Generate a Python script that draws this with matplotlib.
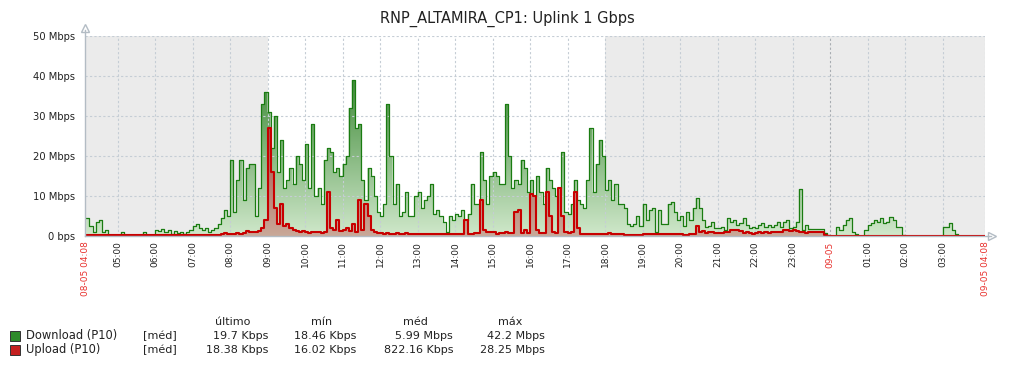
import numpy as np
import matplotlib
matplotlib.use('Agg')
import matplotlib.pyplot as plt
from matplotlib.colors import LinearSegmentedColormap

# Dados (Mbps), amostras a cada 5 min, começando 04:10 de 08-05
download = [
    [4.5, 2.5, 1.0, 3.5, 4.0, 1.0, 1.5, 0.3, 0.3, 0.2],                 # 04h
    [0.2, 1.0, 0.2, 0.3, 0.2, 0.2, 0.2, 0.2, 1.0, 0.2, 0.2, 0.1],       # 05h
    [1.5, 1.2, 1.8, 1.0, 1.5, 0.5, 1.2, 0.8, 1.0, 0.6, 1.0, 1.5],       # 06h
    [2.5, 3.0, 2.0, 1.5, 2.0, 1.0, 1.5, 2.0, 3.0, 4.5, 6.5, 5.0],       # 07h
    [19, 6, 14, 19, 9, 17, 18, 18, 5, 12, 33, 36],                      # 08h
    [31, 22, 30, 16, 24, 12, 14, 17, 13, 20, 18, 14],                   # 09h
    [23, 12, 28, 10, 12, 8, 19, 22, 21, 16, 17, 15],                    # 10h
    [18, 20, 32, 39, 27, 28, 14, 9, 17, 15, 10, 6],                     # 11h
    [5, 8, 33, 20, 8, 13, 5, 6, 11, 5, 5, 10],                          # 12h
    [11, 7, 9, 10, 13, 5.5, 6.5, 5, 3.5, 1, 5, 4],                      # 13h
    [5.5, 5, 6.5, 4, 5.5, 13, 8, 8, 21, 14, 8, 15],                     # 14h
    [16, 15, 13, 13, 33, 20, 12, 14, 13, 19, 17, 11],                   # 15h
    [14, 10, 15, 11, 8, 17, 14, 12, 10, 12, 21, 6],                     # 16h
    [5.5, 8, 14, 9, 8, 7, 14, 27, 11, 18, 24, 20],                      # 17h
    [11.5, 14, 9, 13, 8, 8, 7, 3, 2.5, 3, 5, 2.5],                      # 18h
    [8, 4, 6.5, 7, 1, 6.5, 3, 3, 8, 8.5, 6, 4],                         # 19h
    [5, 2.5, 6, 4, 7, 9.5, 7, 4, 2.3, 2.5, 3.5, 2],                     # 20h
    [2, 2.3, 1.5, 4.4, 3.6, 4, 2.7, 3.2, 4.4, 2.7, 2, 2.3],             # 21h
    [2, 2.7, 3.2, 2.3, 2.7, 2.3, 2.7, 3.6, 2.3, 3.6, 4, 2],             # 22h
    [2.3, 3.6, 11.7, 1.5, 2.7, 1.8, 1.7, 1.7, 1.7, 1.7, 0.8, 0.3],      # 23h
    [0.02, 0.02, 2.3, 1.5, 2.7, 4, 4.5, 1, 0.5, 0.02, 0.02, 1.5],       # 00h
    [2.7, 3.2, 4, 3.6, 4.4, 3.2, 3.6, 4.8, 4, 2.3, 2.3, 0.2],           # 01h
    [0.02, 0.02, 0.02, 0.02, 0.02, 0.02, 0.02, 0.02, 0.02, 0.02, 0.02, 0.02],  # 02h
    [2.3, 2.3, 3.2, 1.5, 0.5, 0.02, 0.02, 0.02, 0.02, 0.02, 0.02, 0.02],  # 03h
    [0.02, 0.02],                                                       # 04h
]
upload = [
    [0.3, 0.3, 0.2, 0.3, 0.3, 0.2, 0.2, 0.2, 0.2, 0.2],
    [0.2, 0.2, 0.2, 0.2, 0.2, 0.2, 0.2, 0.2, 0.2, 0.2, 0.2, 0.2],
    [0.2, 0.2, 0.2, 0.2, 0.2, 0.2, 0.2, 0.2, 0.2, 0.2, 0.2, 0.2],
    [0.2, 0.2, 0.2, 0.2, 0.2, 0.2, 0.2, 0.3, 0.3, 0.5, 0.7, 0.6],
    [0.5, 0.6, 0.7, 0.6, 0.8, 1.2, 1.0, 1.0, 0.9, 1.2, 2.0, 4.0],
    [27, 16, 7, 3, 8, 2.5, 3, 2, 1.5, 1.2, 1.0, 1.2],
    [1.0, 0.8, 1.0, 0.9, 1.1, 0.8, 1.0, 11, 2, 1.5, 4, 1.2],
    [1.5, 2, 1.2, 3, 1, 9, 1.5, 8, 5, 1.5, 1.0, 0.8],
    [0.7, 0.5, 0.8, 0.6, 0.5, 0.7, 0.5, 0.6, 0.7, 0.5, 0.5, 0.5],
    [0.5, 0.5, 0.4, 0.5, 0.4, 0.5, 0.4, 0.4, 0.5, 0.4, 0.5, 0.5],
    [0.5, 0.5, 0.6, 4, 0.5, 0.6, 0.7, 0.8, 9, 1.5, 1.0, 1.0],
    [1.0, 0.6, 0.8, 0.7, 1.0, 0.8, 0.7, 6, 6.5, 0.8, 1.5, 0.8],
    [10.5, 10, 1.5, 0.8, 0.7, 11, 5, 1, 0.7, 12, 5, 1.0],
    [0.7, 1.0, 11, 2, 0.6, 0.5, 0.5, 0.6, 0.5, 0.5, 0.5, 0.6],
    [0.6, 0.8, 0.6, 0.4, 0.4, 0.4, 0.3, 0.3, 0.3, 0.3, 0.2, 0.3],
    [0.4, 0.4, 0.4, 0.4, 0.4, 0.4, 0.4, 0.4, 0.4, 0.4, 0.4, 0.4],
    [0.4, 0.3, 0.3, 0.4, 0.5, 2.5, 1.0, 1.2, 0.8, 0.9, 1.0, 0.8],
    [0.8, 0.8, 0.9, 1.0, 1.5, 1.6, 1.5, 1.2, 0.8, 0.9, 0.8, 0.6],
    [0.8, 0.9, 0.8, 0.9, 0.8, 1.0, 0.9, 0.9, 1.0, 1.5, 1.6, 1.2],
    [1.5, 1.2, 0.9, 1.0, 0.8, 1.0, 1.0, 1.0, 1.0, 1.0, 0.3, 0.1],
    [0.02, 0.02, 0.02, 0.02, 0.02, 0.02, 0.02, 0.02, 0.02, 0.02, 0.02, 0.02],
    [0.02, 0.02, 0.02, 0.02, 0.02, 0.02, 0.02, 0.02, 0.02, 0.02, 0.02, 0.02],
    [0.02, 0.02, 0.02, 0.02, 0.02, 0.02, 0.02, 0.02, 0.02, 0.02, 0.02, 0.02],
    [0.02, 0.02, 0.02, 0.02, 0.02, 0.02, 0.02, 0.02, 0.02, 0.02, 0.02, 0.02],
    [0.02, 0.02],
]

hora_labels = ['05:00', '06:00', '07:00', '08:00', '09:00', '10:00', '11:00', '12:00',
               '13:00', '14:00', '15:00', '16:00', '17:00', '18:00', '19:00', '20:00',
               '21:00', '22:00', '23:00', '09-05', '01:00', '02:00', '03:00']
y_labels = ['0 bps', '10 Mbps', '20 Mbps', '30 Mbps', '40 Mbps', '50 Mbps']

legenda_nomes = ['Download (P10)', 'Upload (P10)']
legenda_cores = ['#2e8a2a', '#c41f1f']
legenda_cols = ['último', 'mín', 'méd', 'máx']
legenda_vals = [['19.7 Kbps', '18.46 Kbps', '5.99 Mbps', '42.2 Mbps'],
                ['18.38 Kbps', '16.02 Kbps', '822.16 Kbps', '28.25 Mbps']]

# minutos a partir de 08-05 04:08
dl = np.concatenate([np.array(h, dtype=float) for h in download])
ul = np.concatenate([np.array(h, dtype=float) for h in upload])
t = 2 + 5 * np.arange(len(dl))
T_END = 24 * 60
tx = np.append(t, T_END)
dlx = np.append(dl, dl[-1])
ulx = np.append(ul, ul[-1])

fig = plt.figure(figsize=(10.16, 3.68), dpi=100)
ax = fig.add_axes([85 / 1016, 132 / 368, 900 / 1016, 200 / 368])
ax.set_facecolor('white')

# horário não comercial
inicio_trab = 52 + 4 * 60     # 09:00
fim_trab = 52 + 13 * 60       # 18:00
ax.axvspan(0, inicio_trab, color='#ebebeb', zorder=0, lw=0)
ax.axvspan(fim_trab, T_END, color='#ebebeb', zorder=0, lw=0)


def preenche(x, y, c_lo, c_hi, vmax, z):
    poly = ax.fill_between(x, 0, y, step='post', facecolor='none', edgecolor='none')
    cmap = LinearSegmentedColormap.from_list('g', [c_lo, c_hi])
    grad = np.linspace(0, 1, 256).reshape(-1, 1)
    im = ax.imshow(grad, extent=[0, T_END, 0, vmax], origin='lower', aspect='auto',
                   cmap=cmap, zorder=z, interpolation='bilinear')
    im.set_clip_path(poly.get_paths()[0], transform=ax.transData)


preenche(tx, dlx, '#d0e8cb', '#3f8a38', 40, 2)
ax.step(tx, dlx, where='post', color='#1a7c11', lw=0.9, zorder=4)
preenche(tx, ulx, '#c9a898', '#a04a40', 30, 5)
ax.step(tx, ulx, where='post', color='#c80000', lw=1.5, zorder=6)

# grade
ticks_x = [52 + 60 * i for i in range(len(hora_labels))]
for i, xv in enumerate(ticks_x):
    cor = '#a8adb2' if hora_labels[i] == '09-05' else '#c5cdd5'
    ax.axvline(xv, color=cor, lw=0.8, dashes=(2, 2), zorder=3)
ax.axvline(T_END, color='#c5cdd5', lw=0.8, dashes=(2, 2), zorder=3)
for yv in range(10, 60, 10):
    ax.axhline(yv, color='#c5cdd5', lw=0.8, dashes=(2, 2), zorder=3)

ax.set_xlim(0, T_END)
ax.set_ylim(0, 50)
for s in ax.spines.values():
    s.set_visible(False)

# eixos com setas
ax.plot([0, 0], [0, 51.5], color='#b3bcc4', lw=1, clip_on=False, zorder=7)
ax.plot([0, T_END + 10], [0, 0], color='#b3bcc4', lw=1, clip_on=False, zorder=7)
ax.plot([0], [52], marker='^', ms=6, mfc='white', mec='#b3bcc4', mew=1, clip_on=False)
ax.plot([T_END + 11], [0], marker='>', ms=6, mfc='white', mec='#b3bcc4', mew=1, clip_on=False)

ax.set_yticks(range(0, 60, 10))
ax.set_yticklabels(y_labels, fontsize=7.2, color='#222222')
ax.tick_params(axis='y', length=0, pad=7)

xt = [0] + ticks_x + [T_END]
xl = ['08-05 04:08'] + hora_labels + ['09-05 04:08']
ax.set_xticks(xt)
ax.set_xticklabels(xl, rotation=90, fontsize=6.5, color='#222222', va='top', ha='center')
ax.tick_params(axis='x', length=0, pad=4)
for lbl in ax.get_xticklabels():
    if '09-05' in lbl.get_text() or '08-05' in lbl.get_text():
        lbl.set_color('#e8322e')

fig.text(507 / 1016, 1 - 19 / 368, 'RNP_ALTAMIRA_CP1: Uplink 1 Gbps', ha='center', va='center',
         fontsize=10.5, color='#222222')

# legenda em tabela
W, H = 1016, 368
col_centros = [233, 322, 415, 510]
col_dir = [268, 356, 453, 545]
for c, nome in zip(col_centros, legenda_cols):
    fig.text(c / W, 1 - 322 / H, nome, ha='center', va='center', fontsize=8, color='#222222')
for i, (nome, cor, vals) in enumerate(zip(legenda_nomes, legenda_cores, legenda_vals)):
    yc = 336 + 14 * i
    fig.patches.append(plt.Rectangle((10 / W, 1 - (yc + 5) / H), 10 / W, 10 / H,
                                     transform=fig.transFigure, facecolor=cor,
                                     edgecolor='#333333', lw=0.7))
    fig.text(26 / W, 1 - yc / H, nome, ha='left', va='center', fontsize=8.3, color='#222222')
    fig.text(143 / W, 1 - yc / H, '[méd]', ha='left', va='center', fontsize=8, color='#222222')
    for xr, v in zip(col_dir, vals):
        fig.text(xr / W, 1 - yc / H, v, ha='right', va='center', fontsize=8, color='#222222')

fig.savefig('out.png', dpi=100)
